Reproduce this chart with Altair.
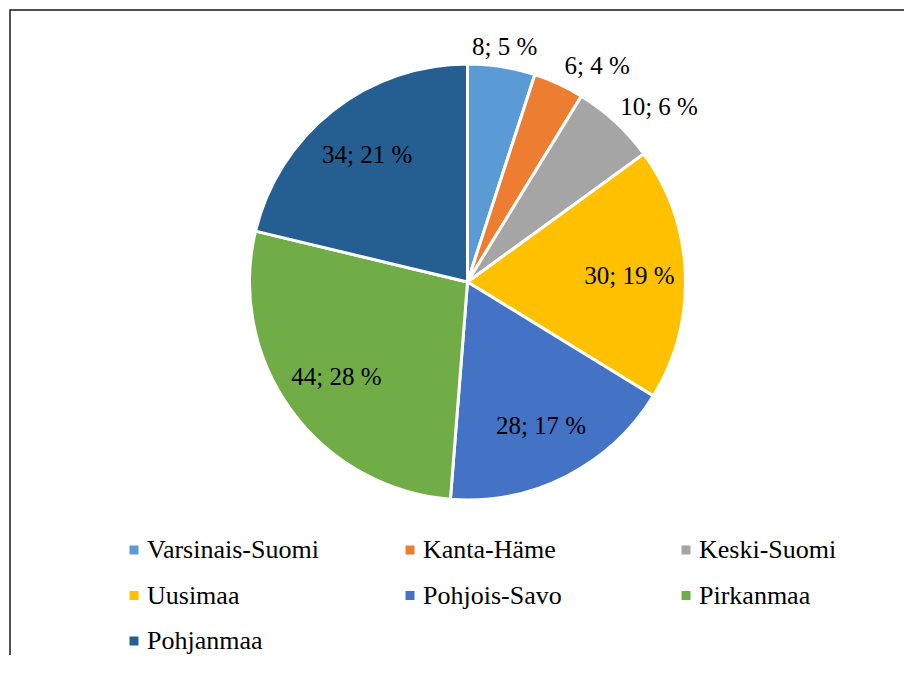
import altair as alt
import pandas as pd

regions = ["Varsinais-Suomi", "Kanta-Häme", "Keski-Suomi", "Uusimaa",
           "Pohjois-Savo", "Pirkanmaa", "Pohjanmaa"]
counts = [8, 6, 10, 30, 28, 44, 34]
percents = [5, 4, 6, 19, 17, 28, 21]
colors = ["#5B9BD5", "#ED7D31", "#A5A5A5", "#FFC000",
          "#4472C4", "#70AD47", "#255E91"]

df = pd.DataFrame({
    "region": regions,
    "count": counts,
    "pct": percents,
    "idx": list(range(len(regions))),
})
df["label"] = [f"{c}; {p} %" for c, p in zip(counts, percents)]

FONT = "Liberation Serif"
CX, CY, R = 457.5, 272, 218

base = alt.Chart(df).encode(
    theta=alt.Theta("count:Q", stack=True),
    order=alt.Order("idx:Q"),
    x=alt.value(CX),
    y=alt.value(CY),
)

pie = base.mark_arc(outerRadius=R, stroke="white", strokeWidth=3).encode(
    color=alt.Color(
        "region:N",
        sort=regions,
        scale=alt.Scale(domain=regions, range=colors),
        legend=alt.Legend(
            title=None, orient="none", legendX=111, legendY=527,
            direction="horizontal", columns=3, gridAlign="all",
            columnPadding=78, rowPadding=19.5,
            symbolType="square", symbolSize=81, symbolStrokeWidth=0,
            labelFont=FONT, labelFontSize=26, labelColor="black",
            labelOffset=0, labelLimit=0,
        ),
    )
)

inside = base.transform_calculate(
    t="datum.count >= 20 ? datum.label : ''"
).mark_text(radius=162, font=FONT, fontSize=25, color="black").encode(
    text="t:N"
)

outside = base.transform_calculate(
    t="datum.count < 20 ? datum.label : ''"
).mark_text(
    radius=238, font=FONT, fontSize=25, color="black",
    dx=alt.expr("datum.idx > 0 ? 30 : 0"),
).encode(
    text="t:N"
)

frame = alt.Chart(alt.Data(values=[{}])).mark_rect(
    fillOpacity=0, stroke="#1a1a1a", strokeWidth=1.5
).encode(
    x=alt.value(0), y=alt.value(0), x2=alt.value(2000), y2=alt.value(2000)
)

chart = alt.layer(frame, pie, inside, outside).properties(
    width=894, height=645,
    autosize=alt.AutoSizeParams(type="none"),
    padding={"left": 2, "top": 2, "right": 0, "bottom": 0},
).configure_view(stroke=None)

chart.save("out.html", embed_options={"renderer": "svg", "actions": False})
